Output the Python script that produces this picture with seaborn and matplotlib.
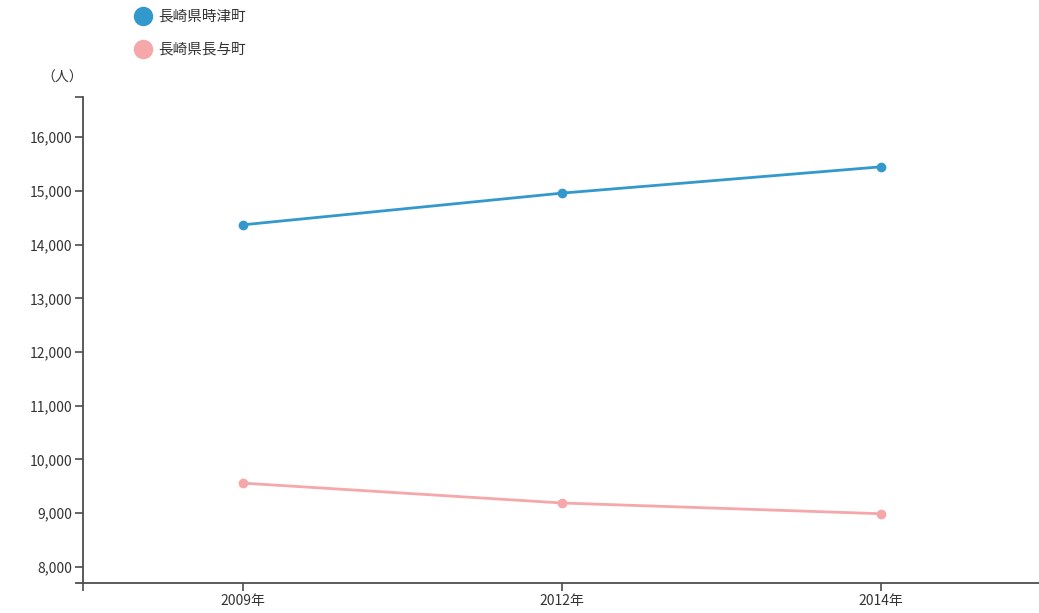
import matplotlib
matplotlib.use("Agg")
import matplotlib.pyplot as plt
from matplotlib.lines import Line2D
import seaborn as sns
import pandas as pd

years = ["2009年", "2012年", "2014年"]
towns = ["長崎県時津町", "長崎県長与町"]
togitsu = [14370, 14960, 15450]
nagayo = [9560, 9190, 8990]
colors = ["#3399cc", "#f5a7aa"]
y_ticks = [8000, 9000, 10000, 11000, 12000, 13000, 14000, 15000, 16000]

df = pd.DataFrame({
    "year": years * 2,
    "town": [towns[0]] * 3 + [towns[1]] * 3,
    "people": togitsu + nagayo,
})
df["pos"] = df["year"].map({y: i for i, y in enumerate(years)})

sns.set_theme(style="white")
plt.rcParams["font.family"] = ["Noto Sans CJK JP", "DejaVu Sans"]

W, H = 1039, 613
fig = plt.figure(figsize=(W / 100, H / 100), dpi=100)
ax_left, ax_right, ax_bottom, ax_top = 76, 1039, 583, 97
ax = fig.add_axes([ax_left / W, (H - ax_bottom) / H,
                   (ax_right - ax_left) / W, (ax_bottom - ax_top) / H])

sns.lineplot(data=df, x="pos", y="people", hue="town", palette=colors,
             hue_order=towns, marker="o", markersize=7, markeredgewidth=0,
             linewidth=2, legend=False, ax=ax)

band = 319.0
x0 = 243
ax.set_xlim(-(x0 - ax_left) / band, (ax_right - x0) / band)
ymin, ymax = 7700, 16750
ax.set_ylim(ymin, ymax)

axis_color = "#4d4d4d"
for side in ["top", "right"]:
    ax.spines[side].set_visible(False)
ax.spines["left"].set_position(("data", -0.5))
for side in ["left", "bottom"]:
    ax.spines[side].set_color(axis_color)
    ax.spines[side].set_linewidth(1.3)

ax.set_xticks([-0.5, 0, 1, 2])
ax.set_xticklabels([""] + years)
ax.set_yticks(y_ticks + [ymax])
ax.set_yticklabels([f"{v:,}" for v in y_ticks] + [""])
ax.tick_params(axis="both", which="both", direction="out", length=6, width=1.2,
               color=axis_color, labelcolor="#333333", labelsize=10, pad=2,
               left=True, bottom=True)
ax.set_xlabel("")
ax.set_ylabel("")
ax.grid(False)

fig.text(62 / W, 1 - 78 / H, "（人）", ha="center", va="center",
         fontsize=10, color="#333333")

handles = [Line2D([], [], linestyle="none", marker="o", markersize=14,
                  markerfacecolor=c, markeredgewidth=0) for c in colors]
fig.legend(handles, towns, loc="upper left", bbox_to_anchor=(131 / W, 1 - 10 / H),
           frameon=False, fontsize=10.5, handletextpad=0.25, labelspacing=1.3,
           handlelength=1.6, borderaxespad=0, borderpad=0, labelcolor="#333333")

fig.savefig("out.png", dpi=100, facecolor="white")
